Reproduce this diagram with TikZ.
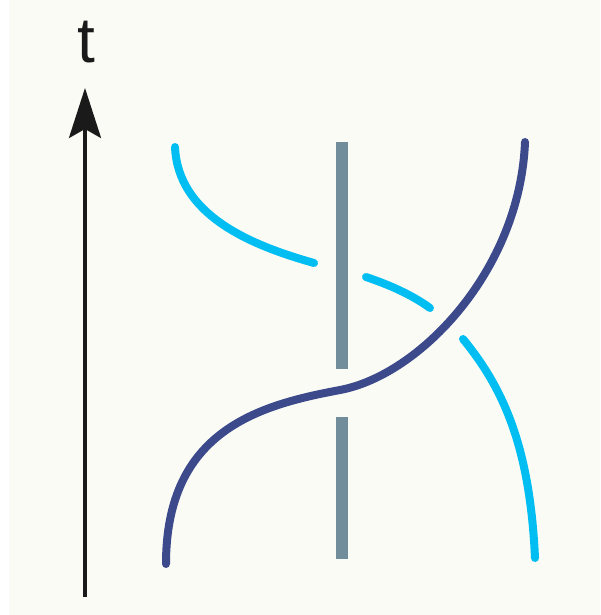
\documentclass[tikz,border=0pt]{standalone}
\usepackage{fontspec}
\setmainfont{Liberation Sans}
\usetikzlibrary{arrows.meta}
\definecolor{bgcream}{HTML}{FAFBF5}
\definecolor{darkstrand}{HTML}{3C4A8C}
\definecolor{lightstrand}{HTML}{00BEF2}
\definecolor{barcol}{HTML}{718D9B}
\definecolor{axiscol}{HTML}{1A1A1A}
\tikzset{
  strand/.style={line width=8pt, line cap=round},
  barstyle/.style={line width=12pt, line cap=butt, draw=barcol},
}
\begin{document}
\begin{tikzpicture}[x=1pt,y=-1pt]
\useasboundingbox (0,0) rectangle (600,615);
\fill[white] (0,0) rectangle (600,615);
\fill[bgcream] (9,0) rectangle (600,615);
% time axis
\coordinate (axisbot) at (85,597);
\coordinate (axistop) at (85,88);
\draw[axiscol, line width=3.5pt, -{Stealth[length=50pt,width=32pt,inset=9pt]}] (axisbot) -- (axistop);
\node[anchor=base, inner sep=0pt, font=\fontsize{64}{64}\selectfont, text=axiscol] (tlabel) at (86,63) {t};
% grey bar
\draw[barstyle] (342,142) -- (342,369);
\draw[barstyle] (342,417) -- (342,559);
% light strand (pieces)
\draw[strand, lightstrand] (175,147) .. controls (178,215) and (250,245) .. (314,263);
\draw[strand, lightstrand] (366,277) .. controls (390,285) and (412,295) .. (430,308);
\draw[strand, lightstrand] (463,339) .. controls (505,390) and (530,450) .. (535,558);
% dark strand
\draw[strand, darkstrand] (166,564) .. controls (166,430) and (260,405) .. (340,390)
  .. controls (420,375) and (520,270) .. (525,142);
\end{tikzpicture}
\end{document}
